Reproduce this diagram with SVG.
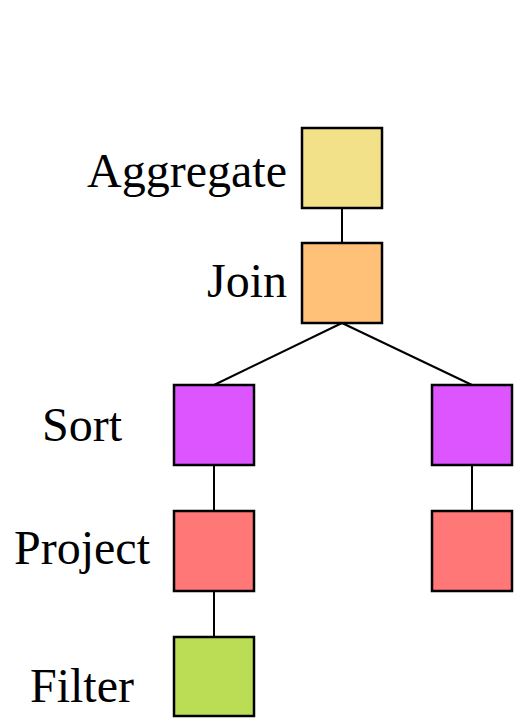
<svg xmlns="http://www.w3.org/2000/svg" width="514" height="721" viewBox="0 0 514 721">
  <style>
    .box { stroke: #000; stroke-width: 2.5; }
    .edge { stroke: #000; stroke-width: 2; fill: none; }
    .lbl { font-family: 'Times New Roman', 'Liberation Serif', Times, serif; font-size: 48px; fill: #000; }
    .agg { fill: #F3E18A; }
    .join { fill: #FFC078; }
    .sort { fill: #DD55FF; }
    .proj { fill: #FF7777; }
    .filt { fill: #BBDD55; }
  </style>
  <rect width="514" height="721" fill="#fff"/>

  <!-- connectors -->
  <g id="edges">
    <line class="edge" x1="342" y1="208" x2="342" y2="243"/>
    <line class="edge" x1="342" y1="323" x2="214" y2="385"/>
    <line class="edge" x1="342" y1="323" x2="472" y2="385"/>
    <line class="edge" x1="214" y1="465" x2="214" y2="511"/>
    <line class="edge" x1="214" y1="591" x2="214" y2="637"/>
    <line class="edge" x1="472" y1="465" x2="472" y2="511"/>
  </g>

  <!-- operator nodes -->
  <g id="aggregate">
    <rect class="box agg" x="302" y="128" width="80" height="80"/>
    <text class="lbl" x="287" y="187" text-anchor="end">Aggregate</text>
  </g>
  <g id="join">
    <rect class="box join" x="302" y="243" width="80" height="80"/>
    <text class="lbl" x="287" y="297" text-anchor="end">Join</text>
  </g>
  <g id="sort-left">
    <rect class="box sort" x="174" y="385" width="80" height="80"/>
    <text class="lbl" x="82" y="441" text-anchor="middle">Sort</text>
  </g>
  <g id="project-left">
    <rect class="box proj" x="174" y="511" width="80" height="80"/>
    <text class="lbl" x="82" y="564" text-anchor="middle">Project</text>
  </g>
  <g id="filter-left">
    <rect class="box filt" x="174" y="637" width="80" height="79"/>
    <text class="lbl" x="82" y="702" text-anchor="middle">Filter</text>
  </g>
  <g id="sort-right">
    <rect class="box sort" x="432" y="385" width="80" height="80"/>
  </g>
  <g id="project-right">
    <rect class="box proj" x="432" y="511" width="80" height="80"/>
  </g>
</svg>
